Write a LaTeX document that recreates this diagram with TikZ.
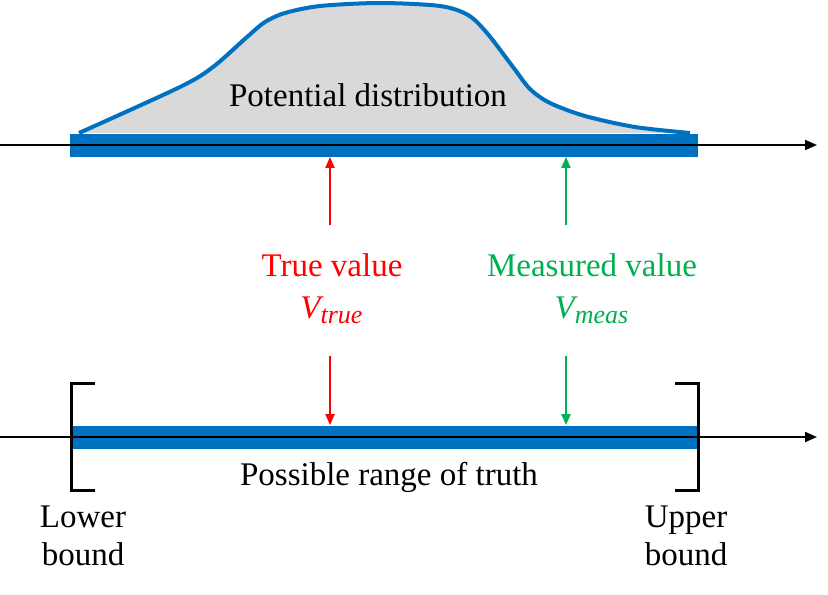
\documentclass[tikz,border=0pt]{standalone}
\usepackage{fontspec}
\setmainfont{Liberation Serif}
\DeclareMathSizes{16.5}{16.5}{13}{10}
\usetikzlibrary{arrows.meta}
\definecolor{barblue}{RGB}{0,112,192}
\definecolor{truered}{RGB}{255,0,0}
\definecolor{measgreen}{RGB}{0,176,80}
\definecolor{distgray}{RGB}{217,217,217}
\begin{document}
\begin{tikzpicture}[x=0.5pt,y=-0.5pt,
    lbl/.style={font=\fontsize{16.5}{19}\selectfont,align=center,inner sep=0pt},
    axis/.style={line width=1pt,-{Triangle[length=6pt,width=5pt]}},
    bar/.style={fill=barblue,minimum width=314pt,minimum height=11.5pt,inner sep=0pt,anchor=west},
    pointer/.style={line width=1pt,-{Triangle[length=5.5pt,width=4.5pt]}},
    bracket/.style={line width=1.5pt}]
  \useasboundingbox (0,0) rectangle (828,594);
  % potential distribution above the upper axis
  \fill[distgray] plot[smooth,tension=0.5] coordinates {(79,133) (180,87) (213,67) (247,37) (265,22) (285,13) (320,6) (380,3) (440,6) (468,15) (487,33) (513,67) (530,89) (550,103) (585,116) (635,127) (690,133)} -- cycle;
  \draw[barblue,line width=2pt] plot[smooth,tension=0.5] coordinates {(79,133) (180,87) (213,67) (247,37) (265,22) (285,13) (320,6) (380,3) (440,6) (468,15) (487,33) (513,67) (530,89) (550,103) (585,116) (635,127) (690,133)};
  \node[bar] (topbar) at (70,145) {};
  \node[bar] (lowbar) at (72,437) {};
  \coordinate (topstart) at (0,145);
  \coordinate (topend) at (817,145);
  \coordinate (lowstart) at (0,437);
  \coordinate (lowend) at (817,437);
  \draw[axis] (topstart) -- (topend);
  \draw[axis] (lowstart) -- (lowend);
  % brackets round the possible range
  \draw[bracket] (95,383) -- (71,383) -- (71,490) -- (95,490);
  \draw[bracket] (675,383) -- (698,383) -- (698,490) -- (675,490);
  % labels
  \node[lbl] (dist) at (368,95) {Potential distribution};
  \node[lbl,text=truered] (truelbl) at (332,265) {True value};
  \node[lbl,text=truered] (truesym) at (332,310) {$\mathit{V}_{\mathit{true}}$};
  \node[lbl,text=measgreen] (measlbl) at (592,265) {Measured value};
  \node[lbl,text=measgreen] (meassym) at (592,310) {$\mathit{V}_{\mathit{meas}}$};
  \node[lbl] (range) at (389,477) {Possible range of truth};
  \node[lbl] (lower) at (83,536) {Lower\\bound};
  \node[lbl] (upper) at (686,536) {Upper\\bound};
  % pointers to the bars
  \coordinate (trueup) at (330,225);
  \coordinate (measup) at (566,225);
  \coordinate (truedown) at (330,356);
  \coordinate (measdown) at (566,356);
  \draw[pointer,truered] (trueup) -- (topbar.south -| trueup);
  \draw[pointer,measgreen] (measup) -- (topbar.south -| measup);
  \draw[pointer,truered] (truedown) -- (lowbar.north -| truedown);
  \draw[pointer,measgreen] (measdown) -- (lowbar.north -| measdown);
\end{tikzpicture}
\end{document}
